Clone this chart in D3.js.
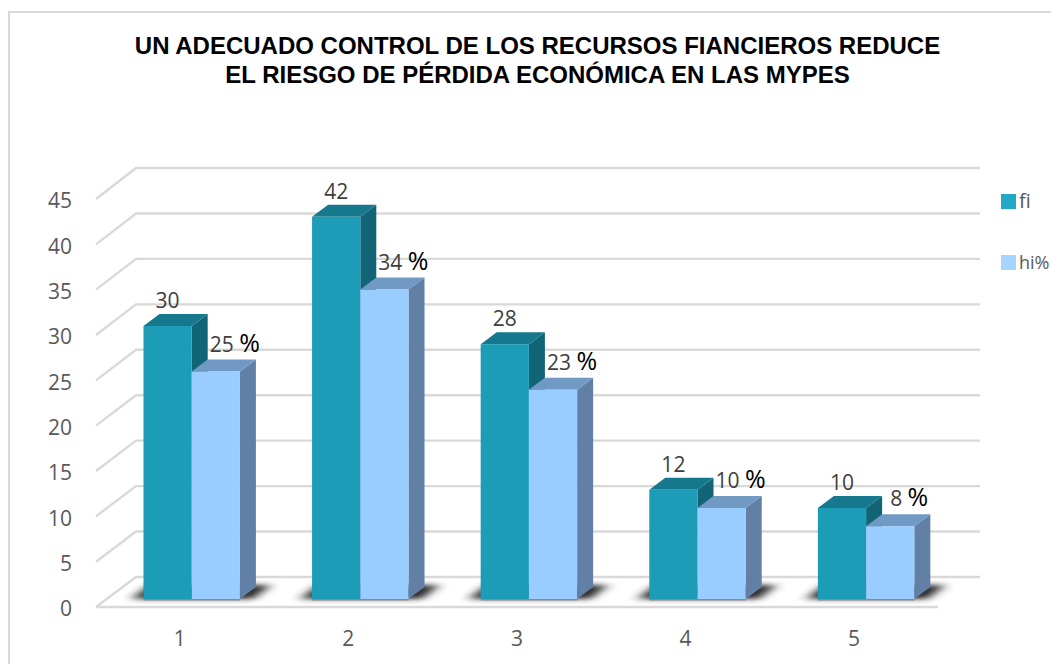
<!DOCTYPE html>
<html>
<head>
<meta charset="utf-8">
<script src="https://cdn.jsdelivr.net/npm/d3@7"></script>
<style>
html, body { margin: 0; padding: 0; background: #fff; overflow: hidden; }
</style>
</head>
<body>
<div id="chart"></div>
<script>
// datos del grafico
const categories = ["1", "2", "3", "4", "5"]
const fiValues = [30, 42, 28, 12, 10]
const hiValues = [25, 34, 23, 10, 8]
const yTicks = [0, 5, 10, 15, 20, 25, 30, 35, 40, 45]
const seriesNames = ["fi", "hi%"]
const titleLines = [
	"UN ADECUADO CONTROL DE LOS RECURSOS FIANCIEROS REDUCE",
	"EL RIESGO DE PÉRDIDA ECONÓMICA EN LAS MYPES"
]

const width = 1051
const height = 664
const FONT = "'Open Sans', sans-serif"
const GRID = "#d9d9d9"
const depthX = 16
const depthY = 12

const colors = [
	{ front: "#1c9cb7", top: "#15788d", side: "#116577", legend: "#21a8c4" },
	{ front: "#99ccff", top: "#7099c4", side: "#6280a6", legend: "#a6d5ff" }
]

const svg = d3.select("#chart").append("svg")
	.attr("width", width)
	.attr("height", height)
	.style("display", "block")

const defs = svg.append("defs")
defs.append("filter")
	.attr("id", "blur")
	.attr("x", "-30%").attr("y", "-100%")
	.attr("width", "160%").attr("height", "300%")
	.append("feGaussianBlur")
	.attr("stdDeviation", "6 2.5")

// marco del grafico
svg.append("path")
	.attr("d", `M9 ${height} V12 H${width}`)
	.attr("fill", "none")
	.attr("stroke", GRID)
	.attr("stroke-width", 2)

// titulo
svg.selectAll(".title")
	.data(titleLines)
	.enter()
	.append("text")
	.attr("class", "title")
	.attr("x", 537.5)
	.attr("y", (d, i) => 54 + i * 29)
	.attr("text-anchor", "middle")
	.attr("font-family", "'Liberation Sans', Arial, sans-serif")
	.attr("font-weight", "bold")
	.attr("font-size", "24px")
	.attr("fill", "#000")
	.text(d => d)

// escalas: pared del fondo, borde frontal y barras
const yBack = d3.scaleLinear().domain([0, 45]).range([577, 168])
const yFront = d3.scaleLinear().domain([0, 45]).range([607, 199])
const yBar = d3.scaleLinear().domain([0, 45]).range([599, 189.5])

const x0 = d3.scaleBand()
	.domain(categories)
	.range([107.4, 950.4])
	.paddingInner(0.428)
	.paddingOuter(0.214)
const x1 = d3.scaleBand()
	.domain(seriesNames)
	.range([0, x0.bandwidth()])

// lineas de cuadricula
svg.selectAll(".grid")
	.data(yTicks)
	.enter()
	.append("path")
	.attr("class", "grid")
	.attr("d", d => `M96 ${yFront(d)} L136 ${yBack(d)} H980`)
	.attr("fill", "none")
	.attr("stroke", GRID)
	.attr("stroke-width", 2.4)

svg.append("line")
	.attr("x1", 96).attr("x2", 938)
	.attr("y1", yFront(0)).attr("y2", yFront(0))
	.attr("stroke", GRID)
	.attr("stroke-width", 2.4)

// ejes
const yAxis = svg.append("g")
	.attr("transform", "translate(72,2)")
	.call(d3.axisLeft(yFront).tickValues(yTicks).tickSize(0).tickPadding(0))
yAxis.select(".domain").remove()

const xAxis = svg.append("g")
	.attr("transform", "translate(-12,631)")
	.call(d3.axisBottom(x0).tickSize(0).tickPadding(0))
xAxis.select(".domain").remove()

svg.selectAll(".tick text")
	.attr("font-family", FONT)
	.attr("font-size", "21px")
	.attr("fill", "#595959")

// sombras sobre el piso
const groups = svg.selectAll(".cat")
	.data(categories)
	.enter()
	.append("g")
	.attr("class", "cat")
	.attr("transform", d => `translate(${x0(d)},0)`)

const w = x1.bandwidth()
const base = yBar(0)

groups.append("path")
	.attr("d", `M${-12} ${base} L6 ${base - 14} H${2 * w + 31} L${2 * w + 13} ${base} Z`)
	.attr("fill", "#2a2a2a")
	.attr("filter", "url(#blur)")

groups.append("line")
	.attr("x1", 0).attr("x2", 2 * w)
	.attr("y1", base + 0.5).attr("y2", base + 0.5)
	.attr("stroke", "#8a8a8a")
	.attr("stroke-width", 2)

// barras 3D
function drawBar(sel, name, values, c) {
	const bar = sel.append("g")
		.datum((d, i) => values[i])
		.attr("transform", `translate(${x1(name)},0)`)
	bar.append("path")
		.attr("d", v => `M${w} ${yBar(v)} l${depthX} ${-depthY} V${base - depthY} L${w} ${base} Z`)
		.attr("fill", c.side)
	bar.append("path")
		.attr("d", v => `M0 ${yBar(v)} l${depthX} ${-depthY} h${w} l${-depthX} ${depthY} Z`)
		.attr("fill", c.top)
	bar.append("rect")
		.attr("x", 0)
		.attr("y", v => yBar(v))
		.attr("width", w)
		.attr("height", v => base - yBar(v))
		.attr("fill", c.front)
}
drawBar(groups, seriesNames[0], fiValues, colors[0])
drawBar(groups, seriesNames[1], hiValues, colors[1])

// etiquetas de datos
groups.append("text")
	.attr("x", x1(seriesNames[0]) + w / 2)
	.attr("y", (d, i) => yBar(fiValues[i]) - 18)
	.attr("text-anchor", "middle")
	.attr("font-family", FONT)
	.attr("font-size", "21px")
	.attr("fill", "#404040")
	.text((d, i) => fiValues[i])

const hiLabel = groups.append("text")
	.attr("x", x1(seriesNames[1]) + w / 2 + 19)
	.attr("y", (d, i) => yBar(hiValues[i]) - 20)
	.attr("text-anchor", "middle")
	.attr("font-family", FONT)
	.attr("font-size", "21px")
	.attr("fill", "#404040")
hiLabel.append("tspan")
	.text((d, i) => hiValues[i] + " ")
hiLabel.append("tspan")
	.attr("font-size", "25px")
	.attr("fill", "#000")
	.text("%")

// leyenda ("hi%" un poco menor para que quepa en la ventana)
const legend = svg.selectAll(".legend")
	.data(seriesNames)
	.enter()
	.append("g")
	.attr("class", "legend")
	.attr("transform", (d, i) => `translate(1001,${194 + i * 61})`)
legend.append("rect")
	.attr("width", 15)
	.attr("height", 15)
	.attr("fill", (d, i) => colors[i].legend)
legend.append("text")
	.attr("x", 18)
	.attr("y", 14)
	.attr("font-family", FONT)
	.attr("font-size", (d, i) => i === 0 ? "20px" : "18px")
	.attr("fill", "#595959")
	.text(d => d)
</script>
</body>
</html>
